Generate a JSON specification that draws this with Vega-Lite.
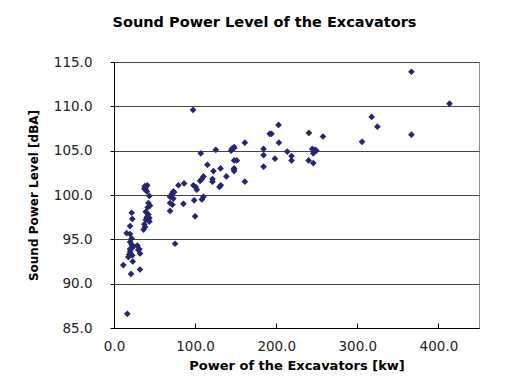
{
  "$schema": "https://vega.github.io/schema/vega-lite/v6.json",
  "autosize": "none",
  "width": 365,
  "height": 266,
  "padding": {"left": 114, "top": 62, "right": 44, "bottom": 59},
  "background": "white",
  "title": {"text": "Sound Power Level of the Excavators", "fontSize": 14.5, "fontWeight": "bold", "font": "DejaVu Sans", "color": "black", "anchor": "middle", "dx": -32, "offset": 25},
  "config": {
    "view": {"stroke": "#8a8a8a", "strokeWidth": 1},
    "axis": {"labelFont": "DejaVu Sans", "titleFont": "DejaVu Sans", "labelFontSize": 13.5, "titleFontSize": 13, "labelColor": "#222", "titleColor": "black", "titleFontWeight": "bold", "domainColor": "black", "tickColor": "black"}
  },
  "data": {"values": [
    {"power": 11.5, "spl": 92.1}, {"power": 16.4, "spl": 86.6}, {"power": 21.0, "spl": 91.1}, {"power": 32.0, "spl": 91.6},
    {"power": 17.7, "spl": 93.0}, {"power": 18.9, "spl": 93.3}, {"power": 23.1, "spl": 92.5}, {"power": 19.8, "spl": 93.6},
    {"power": 21.8, "spl": 94.0}, {"power": 23.8, "spl": 94.2}, {"power": 19.8, "spl": 94.7}, {"power": 21.8, "spl": 94.4},
    {"power": 21.8, "spl": 95.1}, {"power": 15.6, "spl": 95.7}, {"power": 19.8, "spl": 95.6}, {"power": 19.8, "spl": 96.5},
    {"power": 22.6, "spl": 97.3}, {"power": 21.8, "spl": 98.0}, {"power": 28.8, "spl": 94.3}, {"power": 31.3, "spl": 93.9},
    {"power": 32.1, "spl": 93.4}, {"power": 30.0, "spl": 93.8}, {"power": 19.8, "spl": 93.9}, {"power": 22.5, "spl": 93.2},
    {"power": 38.3, "spl": 96.4}, {"power": 37.4, "spl": 96.7}, {"power": 43.6, "spl": 97.0}, {"power": 39.1, "spl": 97.2},
    {"power": 43.6, "spl": 97.4}, {"power": 40.4, "spl": 97.5}, {"power": 42.4, "spl": 97.8}, {"power": 39.1, "spl": 98.1},
    {"power": 41.6, "spl": 98.6}, {"power": 44.4, "spl": 98.8}, {"power": 42.4, "spl": 99.1}, {"power": 43.6, "spl": 99.9},
    {"power": 39.1, "spl": 100.6}, {"power": 37.4, "spl": 100.7}, {"power": 39.1, "spl": 100.9}, {"power": 41.0, "spl": 101.1},
    {"power": 38.0, "spl": 101.0}, {"power": 40.5, "spl": 100.4}, {"power": 36.5, "spl": 96.1},
    {"power": 69.1, "spl": 98.2}, {"power": 72.0, "spl": 98.9}, {"power": 69.1, "spl": 99.1}, {"power": 73.2, "spl": 99.6},
    {"power": 69.1, "spl": 99.8}, {"power": 71.2, "spl": 100.1}, {"power": 73.2, "spl": 100.4}, {"power": 74.0, "spl": 100.3},
    {"power": 75.3, "spl": 94.5}, {"power": 79.4, "spl": 101.1}, {"power": 86.4, "spl": 101.3}, {"power": 85.6, "spl": 99.0},
    {"power": 97.5, "spl": 109.6}, {"power": 97.9, "spl": 101.1}, {"power": 100.8, "spl": 100.9}, {"power": 102.1, "spl": 100.6},
    {"power": 98.8, "spl": 99.4}, {"power": 100.0, "spl": 97.6}, {"power": 106.2, "spl": 101.6}, {"power": 108.3, "spl": 101.8},
    {"power": 110.3, "spl": 102.1}, {"power": 108.3, "spl": 99.5}, {"power": 110.3, "spl": 99.8}, {"power": 107.0, "spl": 104.7},
    {"power": 115.2, "spl": 103.4}, {"power": 121.4, "spl": 101.8}, {"power": 121.4, "spl": 101.5}, {"power": 122.6, "spl": 102.7},
    {"power": 125.5, "spl": 105.1}, {"power": 130.0, "spl": 100.9}, {"power": 131.7, "spl": 101.1}, {"power": 131.3, "spl": 103.0},
    {"power": 138.6, "spl": 102.1},
    {"power": 145.3, "spl": 105.2}, {"power": 148.1, "spl": 105.4}, {"power": 148.1, "spl": 103.9}, {"power": 151.4, "spl": 103.9},
    {"power": 147.8, "spl": 102.9}, {"power": 148.1, "spl": 103.0}, {"power": 148.1, "spl": 102.7}, {"power": 161.3, "spl": 105.9},
    {"power": 161.3, "spl": 101.5}, {"power": 144.4, "spl": 105.0}, {"power": 148.1, "spl": 105.3},
    {"power": 184.4, "spl": 105.2}, {"power": 184.4, "spl": 104.5}, {"power": 184.4, "spl": 103.2}, {"power": 194.2, "spl": 106.9},
    {"power": 192.0, "spl": 106.9}, {"power": 198.4, "spl": 104.1}, {"power": 202.9, "spl": 107.9}, {"power": 203.3, "spl": 105.9},
    {"power": 213.6, "spl": 104.9}, {"power": 218.9, "spl": 104.4}, {"power": 218.9, "spl": 103.9}, {"power": 240.3, "spl": 107.0},
    {"power": 244.4, "spl": 105.2}, {"power": 249.4, "spl": 105.0}, {"power": 245.7, "spl": 104.7}, {"power": 239.9, "spl": 103.9},
    {"power": 245.7, "spl": 103.6}, {"power": 257.6, "spl": 106.6}, {"power": 248.0, "spl": 105.1},
    {"power": 305.8, "spl": 106.0}, {"power": 317.7, "spl": 108.8}, {"power": 324.7, "spl": 107.7}, {"power": 366.7, "spl": 113.9},
    {"power": 366.7, "spl": 106.8}, {"power": 413.6, "spl": 110.3}
  ]},
  "mark": {"type": "point", "shape": "diamond", "filled": true, "size": 45, "color": "#26266f", "opacity": 1},
  "encoding": {
    "x": {"field": "power", "type": "quantitative", "scale": {"domain": [0, 450], "nice": false, "zero": false},
      "axis": {"title": "Power of the Excavators [kw]", "values": [0, 100, 200, 300, 400], "format": ".1f", "grid": false, "tickSize": -5, "labelPadding": 16, "titlePadding": 7, "labelFlush": false}},
    "y": {"field": "spl", "type": "quantitative", "scale": {"domain": [85, 115], "nice": false, "zero": false},
      "axis": {"title": "Sound Power Level [dBA]", "titleFontSize": 12, "values": [85, 90, 95, 100, 105, 110, 115], "format": ".1f", "grid": true, "gridColor": "#444", "gridOpacity": 1, "tickSize": 4, "labelPadding": 18, "titlePadding": 13}}
  }
}
